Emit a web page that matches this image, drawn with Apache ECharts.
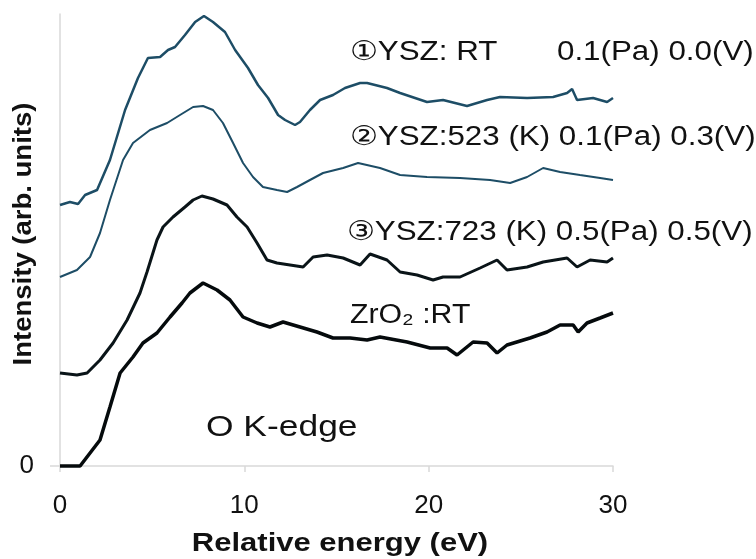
<!DOCTYPE html>
<html>
<head>
<meta charset="utf-8">
<script src="https://cdn.jsdelivr.net/npm/echarts@6/dist/echarts.min.js"></script>
<style>
  html, body { margin: 0; padding: 0; background: #fff; }
  #main { width: 756px; height: 559px; }
</style>
</head>
<body>
<div id="main"></div>
<script>
// O K-edge spectra, curves are stacked with offsets (arb. units)
const xTicks = [0, 10, 20, 30];

// ① YSZ: RT
const e1 = [0,0.54,0.98,1.36,2.01,2.71,3.53,4.23,4.77,5.43,5.86,6.24,6.78,7.33,7.81,8.30,8.95,9.50,10.20,10.74,11.29,11.83,12.21,12.75,13.02,13.56,14.11,14.81,15.46,16.28,16.66,17.74,18.45,19.91,20.78,22.08,23.17,23.87,25.34,26.75,27.51,27.78,28.05,28.92,29.68,30];
const i1 = [2.61,2.64,2.62,2.71,2.76,3.06,3.56,3.88,4.08,4.09,4.16,4.19,4.31,4.44,4.50,4.44,4.34,4.16,3.98,3.81,3.68,3.51,3.46,3.41,3.44,3.56,3.66,3.71,3.78,3.83,3.83,3.78,3.73,3.64,3.66,3.60,3.66,3.69,3.68,3.69,3.73,3.77,3.66,3.68,3.64,3.68];

// ② YSZ:523 K
const e2 = [0,0.92,1.63,2.17,2.71,3.42,3.96,4.88,5.81,6.51,7.22,7.76,8.30,8.84,9.39,9.93,10.47,11.01,11.77,12.32,12.86,13.56,14.27,15.36,16.17,17.36,18.45,19.91,21.70,23.33,24.42,25.34,26.21,27.13,28.21,29.30,30];
const i2 = [1.89,1.96,2.09,2.33,2.66,3.06,3.23,3.36,3.43,3.51,3.59,3.60,3.56,3.43,3.23,3.03,2.89,2.79,2.76,2.74,2.79,2.86,2.93,2.98,3.03,2.98,2.91,2.89,2.88,2.86,2.83,2.89,2.98,2.94,2.91,2.88,2.86];

// ③ YSZ:723 K
const e3 = [0,0.92,1.47,2.17,2.88,3.64,4.34,4.72,5.26,5.59,6.13,6.78,7.22,7.70,8.30,9.06,9.60,10.15,10.69,11.23,11.77,12.48,13.19,13.73,14.49,15.36,16.28,16.82,17.74,18.45,19.37,20.24,20.78,21.70,22.79,23.71,24.25,25.34,26.21,27.51,28.05,28.76,29.68,30];
const i3 = [0.93,0.91,0.93,1.06,1.23,1.46,1.73,1.94,2.26,2.39,2.49,2.59,2.66,2.70,2.67,2.61,2.49,2.39,2.23,2.06,2.03,2.01,1.99,2.09,2.11,2.08,2.01,2.12,2.06,1.94,1.91,1.86,1.89,1.89,1.98,2.06,1.96,1.99,2.04,2.08,1.99,2.06,2.04,2.08];

// ZrO2: RT
const e4 = [0,1.09,1.63,2.17,2.71,3.26,3.96,4.50,5.26,5.97,6.62,7.05,7.76,8.52,9.22,9.93,10.69,11.39,12.10,13.02,13.94,14.81,15.74,16.66,17.36,18.83,20.08,21.00,21.54,22.41,23.17,23.71,24.25,25.50,26.42,27.13,27.84,28.11,28.59,29.30,30];
const i4 = [0,0,0.13,0.26,0.59,0.93,1.09,1.23,1.33,1.49,1.63,1.73,1.83,1.76,1.66,1.49,1.43,1.39,1.44,1.39,1.34,1.28,1.28,1.26,1.29,1.24,1.18,1.18,1.11,1.24,1.23,1.13,1.21,1.28,1.34,1.41,1.41,1.34,1.43,1.48,1.53];

const FONT = '"Liberation Sans", Arial, sans-serif';
const pair = (xs, ys) => xs.map((x, k) => [x, ys[k]]);

function line(name, xs, ys, color, width) {
  return {
    name: name,
    type: 'line',
    data: pair(xs, ys),
    showSymbol: false,
    clip: false,
    lineStyle: { color: color, width: width },
    silent: true
  };
}

// annotation text, slightly stretched like the original figure
function label(text, x, y, size, opts) {
  opts = opts || {};
  return {
    type: 'text',
    x: x,
    y: y,
    scaleX: opts.sx || 1.16,
    rotation: opts.rot || 0,
    style: {
      text: text,
      fill: '#111',
      font: (opts.bold ? 'bold ' : '') + size + 'px ' + FONT,
      textAlign: opts.align || 'left',
      textVerticalAlign: 'middle'
    }
  };
}

const chart = echarts.init(document.getElementById('main'));
chart.setOption({
  animation: false,
  backgroundColor: '#fff',
  grid: { left: 60, right: 143, top: 14, bottom: 93 },
  xAxis: {
    type: 'value',
    min: 0,
    max: 30,
    interval: 10,
    axisLine: { lineStyle: { color: '#d9d9d9', width: 1.5 } },
    axisTick: { show: true, length: 6, lineStyle: { color: '#d9d9d9', width: 1.5 } },
    splitLine: { show: false },
    axisLabel: { margin: 27, fontSize: 26, color: '#111', fontFamily: FONT,
      customValues: xTicks }
  },
  yAxis: {
    type: 'value',
    min: 0,
    max: 4.52,
    axisLine: { show: true, lineStyle: { color: '#d9d9d9', width: 1.5 } },
    axisTick: { show: true, length: 10, customValues: [0], lineStyle: { color: '#d9d9d9', width: 1.5 } },
    splitLine: { show: false },
    axisLabel: { margin: 26, fontSize: 26, color: '#111', fontFamily: FONT, customValues: [0] }
  },
  series: [
    line('①YSZ: RT', e1, i1, '#1d4d66', 2.5),
    line('②YSZ:523 (K)', e2, i2, '#1d4d66', 2),
    line('③YSZ:723 (K)', e3, i3, '#0a1418', 3),
    line('ZrO2:RT', e4, i4, '#050a0c', 3.5)
  ],
  graphic: [
    label('①YSZ: RT', 350, 53, 27),
    label('0.1(Pa) 0.0(V)', 557, 53, 27),
    label('②YSZ:523 (K) 0.1(Pa) 0.3(V)', 350, 138, 27),
    label('③YSZ:723 (K) 0.5(Pa) 0.5(V)', 347, 233, 27),
    label('ZrO₂ :RT', 350, 316, 27, { sx: 1.12 }),
    label('O K-edge', 206, 428, 30, { sx: 1.18 }),
    label('Relative energy (eV)', 340, 544, 25, { bold: true, align: 'center', sx: 1.24 }),
    label('Intensity (arb. units)', 24, 234, 25, { bold: true, align: 'center', sx: 1.1, rot: Math.PI / 2 })
  ]
});
</script>
</body>
</html>
